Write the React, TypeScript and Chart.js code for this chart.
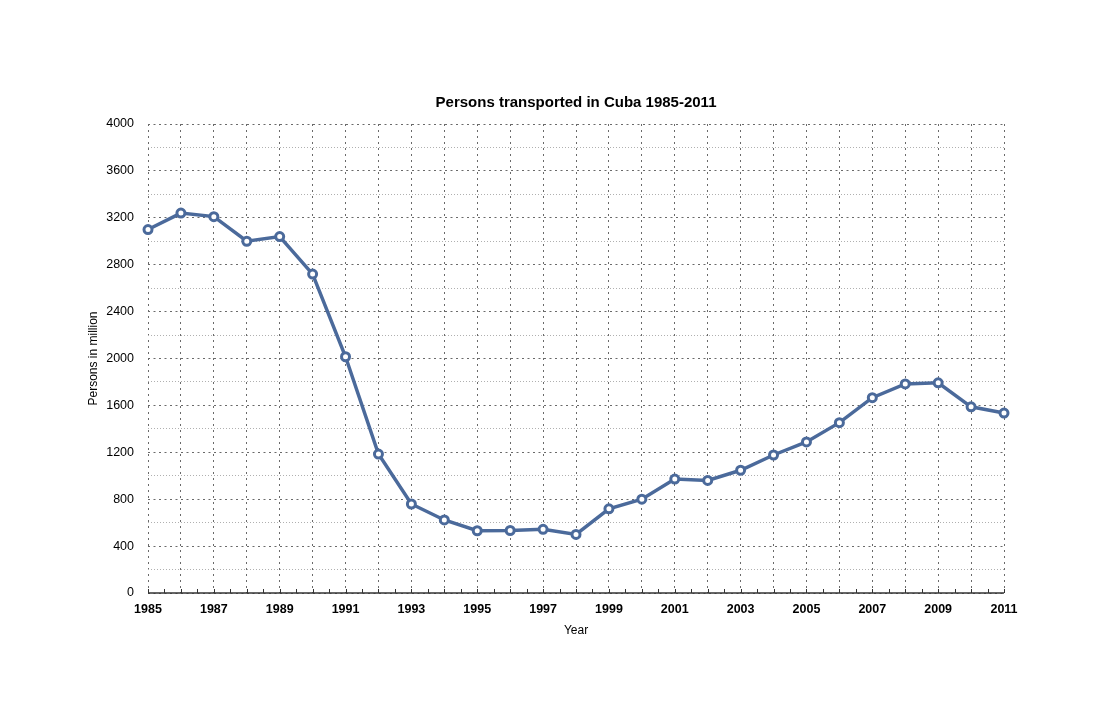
import React, { useEffect, useRef } from "react";
import { Chart, registerables } from "chart.js";

Chart.register(...registerables);

const years = [
  1985, 1986, 1987, 1988, 1989, 1990, 1991, 1992, 1993, 1994, 1995, 1996, 1997, 1998,
  1999, 2000, 2001, 2002, 2003, 2004, 2005, 2006, 2007, 2008, 2009, 2010, 2011,
];
const persons = [
  3100, 3240, 3210, 3000, 3040, 2720, 2015, 1185, 759, 623, 531, 533, 543, 500,
  718, 800, 972, 960, 1047, 1177, 1288, 1453, 1666, 1783, 1793, 1588, 1535,
];

const titleText = "Persons transported in Cuba 1985-2011";
const xTitle = "Year";
const yTitle = "Persons in million";
const FONT = "'Liberation Sans', Arial, Helvetica, sans-serif";
const LINE = "#4b6a9b";

const axisPlugin = {
  id: "axisLine",
  afterDraw(chart: any) {
    const { ctx, chartArea, scales } = chart;
    const xs = scales.x;
    const yPix = scales.y.getPixelForValue(0);
    ctx.save();
    ctx.strokeStyle = "#333";
    ctx.lineWidth = 1.5;
    ctx.beginPath();
    ctx.moveTo(chartArea.left, yPix);
    ctx.lineTo(chartArea.right, yPix);
    ctx.stroke();
    ctx.lineWidth = 1;
    for (let v = xs.min; v <= xs.max + 0.001; v += 0.5) {
      const px = Math.round(xs.getPixelForValue(v)) + 0.5;
      ctx.beginPath();
      ctx.moveTo(px, yPix);
      ctx.lineTo(px, yPix - 4);
      ctx.stroke();
    }
    ctx.restore();
  },
};

export default function App() {
  const ref = useRef<HTMLCanvasElement | null>(null);
  useEffect(() => {
    if (!ref.current) return;
    const chart = new Chart(ref.current, {
      type: "line",
      data: {
        datasets: [
          {
            data: years.map((y, i) => ({ x: y, y: persons[i] })),
            borderColor: LINE,
            borderWidth: 3.5,
            pointRadius: 4,
            pointBorderWidth: 3,
            pointBackgroundColor: "#ffffff",
            pointBorderColor: LINE,
            tension: 0,
            clip: false,
          },
        ],
      },
      options: {
        responsive: false,
        animation: false,
        devicePixelRatio: 1,
        layout: { padding: { left: 80, right: 96, top: 80, bottom: 63 } },
        plugins: {
          legend: { display: false },
          tooltip: { enabled: false },
          title: {
            display: true,
            text: titleText,
            fullSize: false,
            color: "#000",
            font: { family: FONT, size: 15, weight: "bold" },
            padding: { top: 14, bottom: 12 },
          },
        },
        scales: {
          x: {
            type: "linear",
            min: 1985,
            max: 2011,
            afterFit: (s: any) => {
              s.height = 48;
            },
            ticks: {
              stepSize: 1,
              autoSkip: false,
              maxRotation: 0,
              padding: 9,
              color: "#000",
              font: { family: FONT, size: 12.5, weight: "bold" },
              callback: (v: any) => (Number(v) % 2 === 1 ? String(v) : ""),
            },
            grid: { color: "#6a6a6a", lineWidth: 1, drawTicks: false },
            border: { display: false, dash: [2, 4] },
            title: {
              display: true,
              text: xTitle,
              color: "#000",
              font: { family: FONT, size: 12 },
              padding: { top: 4, bottom: 3 },
            },
          },
          y: {
            min: 0,
            max: 4000,
            afterFit: (s: any) => {
              s.width = 68;
            },
            ticks: {
              stepSize: 200,
              autoSkip: false,
              padding: 14,
              color: "#000",
              font: { family: FONT, size: 12.5 },
              callback: (v: any) => (Number(v) % 400 === 0 ? String(v) : ""),
            },
            grid: {
              drawTicks: false,
              lineWidth: 1,
              color: (c: any) =>
                c.tick && c.tick.value % 400 === 0 ? "#6a6a6a" : "#b0b0b0",
            },
            border: {
              display: false,
              dash: (c: any) =>
                c.tick ? (c.tick.value % 400 === 0 ? [2, 3.5] : [1, 2]) : [],
            },
            title: {
              display: true,
              text: yTitle,
              color: "#000",
              font: { family: FONT, size: 12 },
              padding: { top: 6, bottom: 4 },
            },
          },
        },
      },
      plugins: [axisPlugin],
    } as any);
    return () => chart.destroy();
  }, []);
  return (
    <div style={{ position: "absolute", left: 0, top: 0, width: 1100, height: 704, background: "#fff" }}>
      <canvas ref={ref} width={1100} height={704} />
    </div>
  );
}
